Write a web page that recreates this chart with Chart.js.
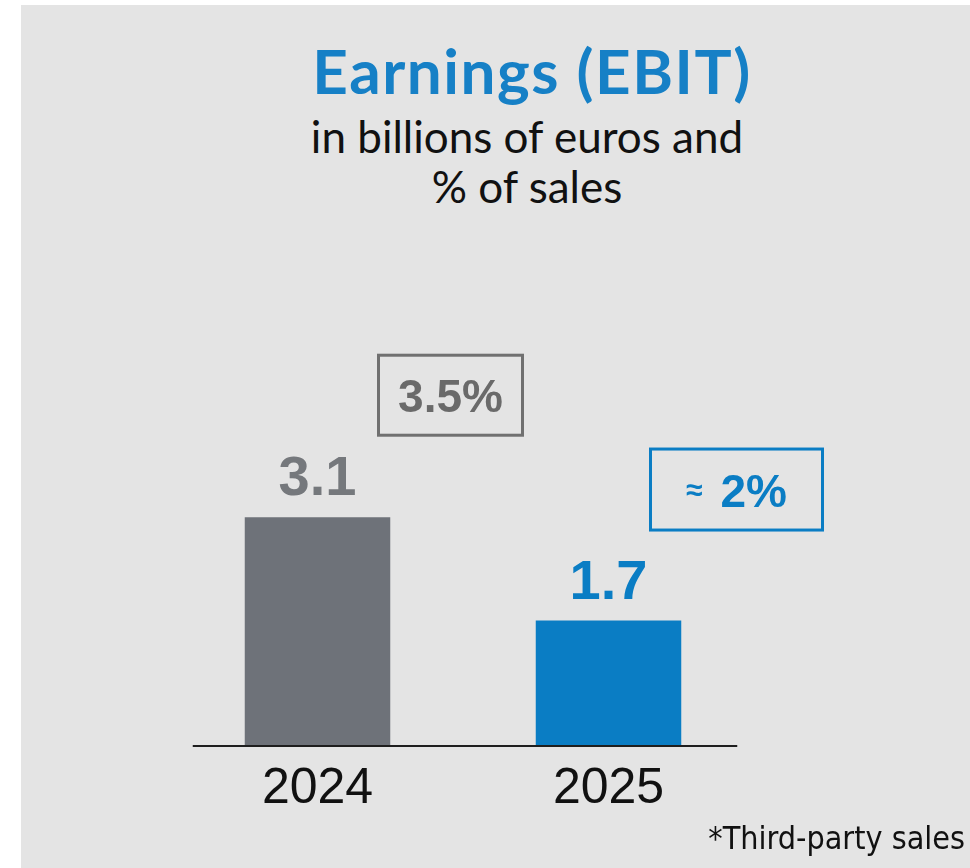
<!DOCTYPE html>
<html>
<head>
<meta charset="utf-8">
<script src="https://cdn.jsdelivr.net/npm/chart.js@4/dist/chart.umd.min.js"></script>
<style>
  html, body { margin: 0; padding: 0; background: #fff; }
  .page { position: relative; width: 970px; height: 868px; overflow: hidden; }
  .panel { position: absolute; left: 21px; top: 5px; right: 0; bottom: 0; background: #e4e4e4; }
  #chart { position: absolute; left: 0; top: 0; }
  .title { position: absolute; left: 232px; width: 600px; top: 33px; text-align: center;
           font: 700 62px Lato, "Open Sans", sans-serif; letter-spacing: 1.5px; line-height: 74px; color: #1680c6; }
  .subtitle { position: absolute; left: 227px; width: 600px; top: 111px; text-align: center;
              font: 400 44px Lato, "Open Sans", sans-serif; line-height: 50px; color: #111; }
  .note { position: absolute; right: 5px; top: 820px;
          font: 400 32px "DejaVu Sans Condensed", "DejaVu Sans", sans-serif; line-height: 36px; color: #111; }
</style>
</head>
<body>
<div class="page">
  <div class="panel"></div>
  <div class="title">Earnings (EBIT)</div>
  <div class="subtitle">in billions of euros and<br>% of sales</div>
  <canvas id="chart" width="970" height="868"></canvas>
  <div class="note">*Third-party sales</div>
</div>
<script>
// values
let years = ['2024', '2025'];
let ebit = [3.1, 1.7];
let ebitLabels = ['3.1', '1.7'];
let margins = ['3.5%', '≈ 2%'];

let grey = '#6e7279';
let blue = '#0a7dc4';

// value labels, margin boxes and the short base line
const annotate = {
  id: 'annotate',
  afterDatasetsDraw(chart, args, opts) {
    const ctx = chart.ctx;
    const bars = chart.getDatasetMeta(0).data;
    const zero = chart.scales.y.getPixelForValue(0);
    ctx.save();

    bars.forEach((bar, i) => {
      ctx.textAlign = 'center';
      ctx.textBaseline = 'alphabetic';
      ctx.fillStyle = opts.labelColors[i];
      ctx.font = 'bold 56px "Liberation Sans", Arial, sans-serif';
      ctx.fillText(ebitLabels[i], bar.x, bar.y - 22);

      const b = opts.boxes[i];
      const cx = bar.x + b.dx;
      const cy = bar.y + b.dy;
      ctx.strokeStyle = opts.boxColors[i];
      ctx.lineWidth = 3;
      ctx.strokeRect(cx - b.w / 2, cy - b.h / 2, b.w, b.h);

      ctx.fillStyle = opts.boxTextColors[i];
      let text = margins[i];
      let prefix = '';
      if (text.startsWith('≈')) {
        prefix = '≈';
        text = text.slice(1).trim();
      }
      const bigFont = 'bold 46px "Liberation Sans", Arial, sans-serif';
      const smallFont = 'bold 30px "Liberation Sans", Arial, sans-serif';
      ctx.font = bigFont;
      const w2 = ctx.measureText(text).width;
      let w1 = 0, gap = 0;
      if (prefix) {
        ctx.font = smallFont;
        w1 = ctx.measureText(prefix).width;
        gap = 18;
      }
      let x = cx - (w1 + gap + w2) / 2;
      ctx.textAlign = 'left';
      if (prefix) {
        ctx.font = smallFont;
        ctx.fillText(prefix, x, cy + 10);
        x += w1 + gap;
      }
      ctx.font = bigFont;
      ctx.fillText(text, x, cy + 17);
    });

    const first = bars[0], last = bars[bars.length - 1];
    ctx.strokeStyle = '#1e1e1e';
    ctx.lineWidth = 2;
    ctx.beginPath();
    ctx.moveTo(first.x - first.width / 2 - 52, zero);
    ctx.lineTo(last.x + last.width / 2 + 56, zero);
    ctx.stroke();
    ctx.restore();
  }
};

new Chart(document.getElementById('chart'), {
  type: 'bar',
  data: {
    labels: years,
    datasets: [{
      data: ebit,
      backgroundColor: [grey, blue],
      borderWidth: 0,
      barPercentage: 1,
      categoryPercentage: 0.5,
    }],
  },
  options: {
    responsive: false,
    animation: false,
    layout: { padding: { left: 172, right: 216, top: 377, bottom: 44 } },
    plugins: {
      legend: { display: false },
      tooltip: { enabled: false },
      annotate: {
        labelColors: ['#75787c', blue],
        boxColors: ['#707070', blue],
        boxTextColors: ['#6a6a6a', blue],
        boxes: [
          { dx: 133, dy: -122, w: 144, h: 80 },
          { dx: 128, dy: -131, w: 172, h: 81 },
        ],
      },
    },
    scales: {
      x: {
        grid: { display: false },
        border: { display: false },
        ticks: {
          color: '#111',
          font: { family: '"Liberation Sans", Arial, sans-serif', size: 50 },
          padding: 5,
        },
      },
      y: { display: false, min: 0, max: 5 },
    },
  },
  plugins: [annotate],
});
</script>
</body>
</html>
